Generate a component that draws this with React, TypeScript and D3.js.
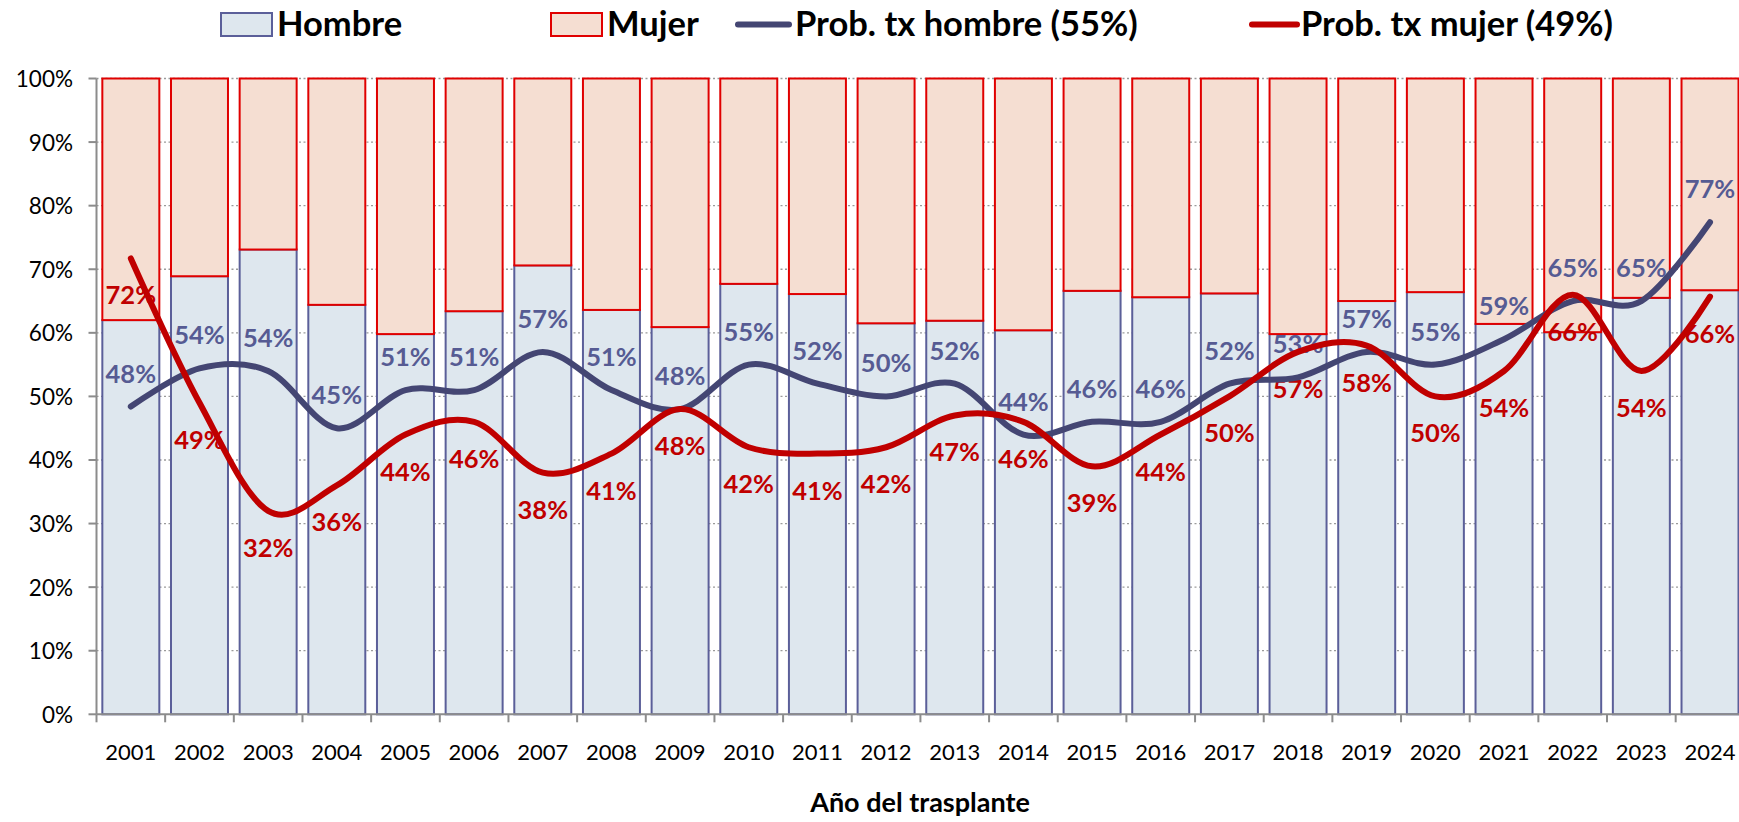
import React from 'react';
import * as d3 from 'd3';

const years = ['2001','2002','2003','2004','2005','2006','2007','2008','2009','2010','2011','2012','2013','2014','2015','2016','2017','2018','2019','2020','2021','2022','2023','2024'];
// share of Hombre in each bar (%), rest is Mujer
const hombreShare = [62.0, 68.9, 73.1, 64.4, 59.8, 63.4, 70.6, 63.6, 60.9, 67.7, 66.1, 61.5, 61.9, 60.4, 66.6, 65.6, 66.2, 59.8, 65.0, 66.4, 61.4, 60.1, 65.5, 66.7];
const probHombre = [48.4, 54.4, 54, 45, 51, 51, 57, 51, 48, 55, 52, 50, 52, 44, 46, 46, 52, 53, 57, 55, 59, 65, 65, 77.4];
const probMujer = [71.7, 49, 32, 36, 44, 46, 38, 41, 48, 42, 41, 42, 47, 46, 39, 44, 50, 57, 58, 50, 54, 66, 54, 65.7];
const yTicks = [0, 10, 20, 30, 40, 50, 60, 70, 80, 90, 100];
const legendLabels = ['Hombre', 'Mujer', 'Prob. tx hombre (55%)', 'Prob. tx mujer (49%)'];
const axisTitle = 'Año del trasplante';

const W = 1739;
const H = 822;
const FONT = 'Lato, "Open Sans", sans-serif';

const C = {
  hFill: '#DEE7EE',
  hStroke: '#5B5F99',
  mFill: '#F5DED2',
  mStroke: '#E00000',
  hLine: '#444673',
  hLabel: '#565B93',
  mLine: '#C00000',
  grid: '#9A9A9A',
  axis: '#8C8C8C',
};

export default function App() {
  const left = 96.5;
  const step = 68.66;
  const x = d3.scaleBand<string>()
    .domain(years)
    .range([left, left + step * years.length])
    .paddingInner(0.17)
    .paddingOuter(0.085);
  const y = d3.scaleLinear().domain([0, 100]).range([714.3, 78.5]);
  const cx = (d: string) => (x(d) as number) + x.bandwidth() / 2;

  const line = d3.line<number>()
    .x((_, i) => cx(years[i]))
    .y((v) => y(v))
    .curve(d3.curveCardinal.tension(0));

  const plotRight = left + step * years.length;

  return (
    <svg width={W} height={H} style={{ position: 'absolute', left: 0, top: 0, display: 'block' }} fontFamily={FONT}>
      <rect x={0} y={0} width={W} height={H} fill="#fff" />
      {/* gridlines */}
      {yTicks.filter((t) => t > 0).map((t) => (
        <line key={'g' + t} x1={left} x2={plotRight} y1={y(t)} y2={y(t)} stroke={C.grid} strokeWidth={1.3} strokeDasharray="2,2.5" />
      ))}
      {/* bars */}
      {years.map((yr, i) => {
        const bx = x(yr) as number;
        const bw = x.bandwidth();
        return (
          <g key={'b' + yr}>
            <rect x={bx} y={y(hombreShare[i])} width={bw} height={y(0) - y(hombreShare[i])} fill={C.hFill} stroke={C.hStroke} strokeWidth={2} />
            <rect x={bx} y={y(100)} width={bw} height={y(hombreShare[i]) - y(100)} fill={C.mFill} stroke={C.mStroke} strokeWidth={2} />
          </g>
        );
      })}
      {/* axes */}
      <line x1={left} x2={left} y1={y(100)} y2={y(0)} stroke={C.axis} strokeWidth={2} />
      <line x1={left} x2={plotRight} y1={y(0)} y2={y(0)} stroke={C.axis} strokeWidth={2} />
      {yTicks.map((t) => (
        <g key={'yt' + t}>
          <line x1={left - 8} x2={left} y1={y(t)} y2={y(t)} stroke={C.axis} strokeWidth={2} />
          <text x={73} y={y(t)} textAnchor="end" dominantBaseline="central" fontSize={22.5} fill="#000">{t + '%'}</text>
        </g>
      ))}
      {d3.range(years.length + 1).map((i) => (
        <line key={'xt' + i} x1={left + i * step} x2={left + i * step} y1={y(0)} y2={y(0) + 8} stroke={C.axis} strokeWidth={2} />
      ))}
      {years.map((yr) => (
        <text key={'xl' + yr} x={cx(yr)} y={760} textAnchor="middle" fontSize={22} fill="#000">{yr}</text>
      ))}
      <text x={920} y={812} textAnchor="middle" fontSize={27} fontWeight="bold" fill="#000">{axisTitle}</text>

      {/* data labels */}
      {probHombre.map((v, i) => (
        <text key={'hl' + i} x={cx(years[i])} y={y(v) - 34} textAnchor="middle" dominantBaseline="central" fontSize={25.5} fontWeight="bold" fill={C.hLabel}>{Math.round(v) + '%'}</text>
      ))}
      {probMujer.map((v, i) => (
        <text key={'ml' + i} x={cx(years[i])} y={y(v) + 36} textAnchor="middle" dominantBaseline="central" fontSize={25.5} fontWeight="bold" fill={C.mLine}>{Math.round(v) + '%'}</text>
      ))}

      {/* lines */}
      <path d={line(probHombre) || ''} fill="none" stroke={C.hLine} strokeWidth={6} strokeLinecap="round" strokeLinejoin="round" />
      <path d={line(probMujer) || ''} fill="none" stroke={C.mLine} strokeWidth={6} strokeLinecap="round" strokeLinejoin="round" />

      {/* legend */}
      <rect x={221} y={13} width={51} height={23} fill={C.hFill} stroke={C.hStroke} strokeWidth={2} />
      <text x={277} y={36} fontSize={34.5} fontWeight="bold" fill="#000">{legendLabels[0]}</text>
      <rect x={551} y={13} width={51} height={23} fill={C.mFill} stroke={C.mStroke} strokeWidth={2} />
      <text x={607} y={36} fontSize={34.5} fontWeight="bold" fill="#000">{legendLabels[1]}</text>
      <line x1={738} x2={789} y1={24.5} y2={24.5} stroke={C.hLine} strokeWidth={6} strokeLinecap="round" />
      <text x={795} y={36} fontSize={34.5} fontWeight="bold" fill="#000">{legendLabels[2]}</text>
      <line x1={1252} x2={1297} y1={24.5} y2={24.5} stroke={C.mLine} strokeWidth={6} strokeLinecap="round" />
      <text x={1301} y={36} fontSize={34.5} fontWeight="bold" fill="#000">{legendLabels[3]}</text>
    </svg>
  );
}
